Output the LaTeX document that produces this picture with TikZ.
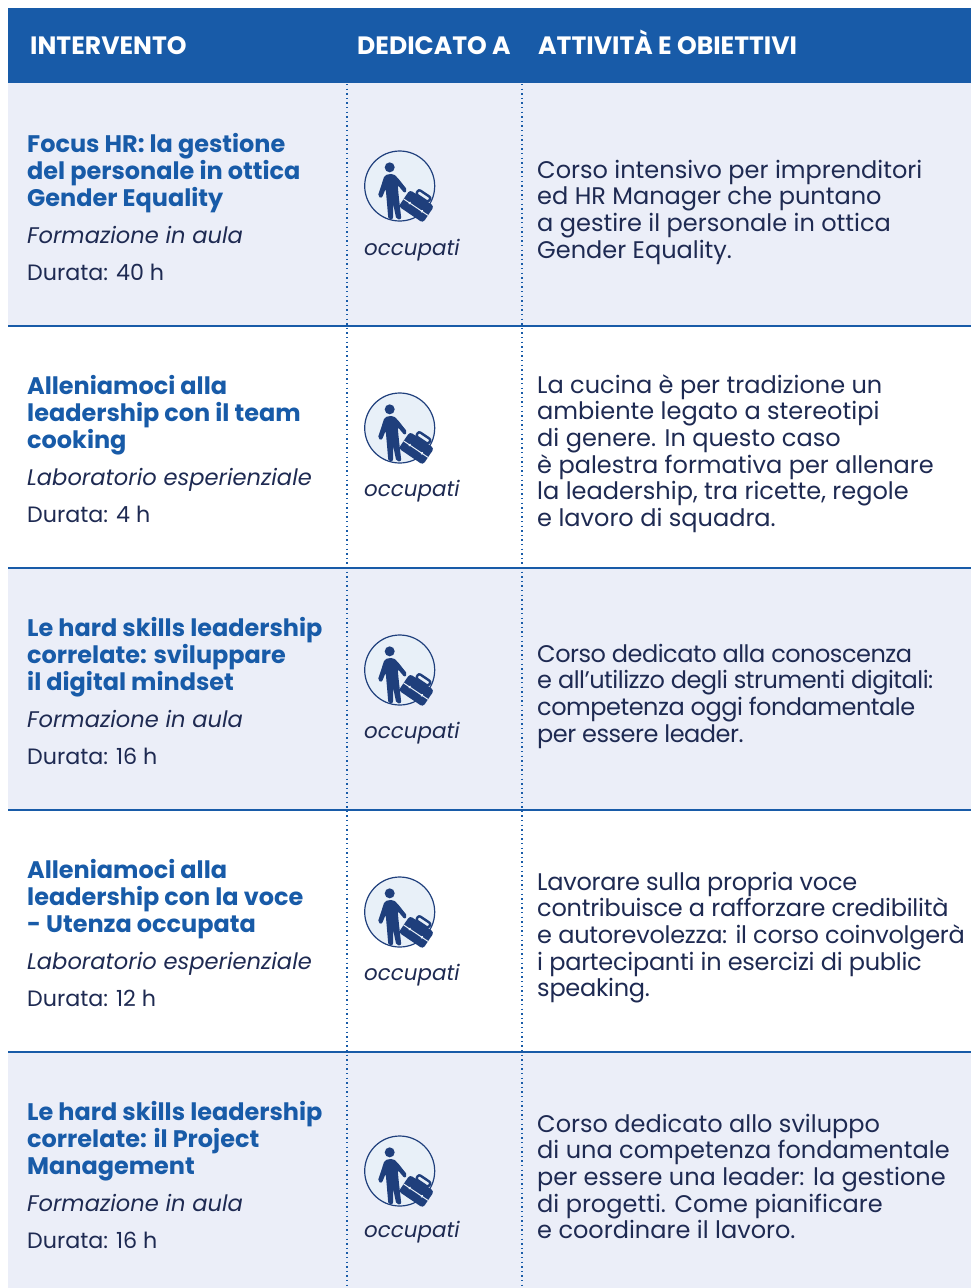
\documentclass[tikz,border=0pt]{standalone}
\usepackage{fontspec}
\setmainfont{Poppins}
\definecolor{hdr}{HTML}{185BA8}
\definecolor{rowbg}{HTML}{EBEEF8}
\definecolor{ttl}{HTML}{185BA8}
\definecolor{ink}{HTML}{1E2A52}
\definecolor{iconblue}{HTML}{1F3F7C}
\definecolor{iconbg}{HTML}{E8F0F8}
\tikzset{
  band/.style={fill=rowbg,draw=none},
  rule/.style={draw=hdr,line width=1.4pt},
  dotline/.style={draw=hdr,line width=1.4pt,dash pattern=on 1.4pt off 3.2pt},
  headtxt/.style={anchor=base west,inner sep=0pt,text=white,font=\fontsize{25.1}{27}\selectfont\bfseries},
  ttltxt/.style={anchor=north west,inner sep=0pt,align=left,text=ttl,font=\fontsize{23.95}{27}\selectfont\bfseries},
  subtxt/.style={anchor=base west,inner sep=0pt,text=ink,font=\fontsize{22.6}{27}\selectfont\itshape},
  occtxt/.style={anchor=base west,inner sep=0pt,text=ink,font=\fontsize{21.4}{27}\selectfont\itshape},
  durtxt/.style={anchor=base west,inner sep=0pt,text=ink,font=\fontsize{22.2}{27}\selectfont},
  bodytxt/.style={anchor=north west,inner sep=0pt,align=left,text=ink,font=\fontsize{24.03}{26.6}\selectfont},
  bodytight/.style={bodytxt,font=\fontsize{24.03}{26.6}\selectfont\addfontfeature{LetterSpace=-2.1}},
  bodysnug/.style={bodytxt,font=\fontsize{24.03}{26.6}\selectfont\addfontfeature{LetterSpace=-1.1}},
}
\newcommand{\fl}{\rule{0pt}{20pt}}
\newcommand{\workicon}[3]{%
  \begin{scope}[shift={(#2,#3)},x=0.3333pt,y=-0.3333pt]
    \node[circle,minimum size=70pt,inner sep=0pt,draw=iconblue,line width=1.2pt,fill=iconbg] (#1) at (0,0) {};
    \fill[iconblue] (-30,-56) circle (15);
    \fill[iconblue,rounded corners=2pt] (-45,-33) -- (-20,-37) -- (-8,-27) -- (23,12) -- (15,22) -- (-6,-3)
      -- (-3,30) -- (5,100) -- (-10,100) -- (-20,52) -- (-20,100) -- (-34,100) -- (-40,30) -- (-42,8) -- (-54,37) -- (-66,31) -- cycle;
    \begin{scope}[shift={(50,61)},rotate=-34]
      \fill[iconblue,rounded corners=3pt] (-44,-30) rectangle (44,30);
      \draw[iconblue,line width=2.4pt,fill=iconbg,rounded corners=2pt] (-22,-46) rectangle (22,-30);
      \draw[iconbg,line width=1pt] (-44,3) -- (44,3);
      \fill[iconbg] (-22,3) circle (4.5) (22,3) circle (4.5);
    \end{scope}
  \end{scope}
}
\begin{document}
\begin{tikzpicture}[x=1pt,y=-1pt]
\useasboundingbox (0,0) rectangle (971,1288);
\fill[white] (0,0) rectangle (971,1288);
\fill[hdr] (8,8) rectangle (971,83);
\fill[band] (8,83) rectangle (971,326);
\fill[band] (8,568) rectangle (971,810);
\fill[band] (8,1052) rectangle (971,1288);
\draw[rule] (8,326) -- (971,326);
\draw[rule] (8,568) -- (971,568);
\draw[rule] (8,810) -- (971,810);
\draw[rule] (8,1052) -- (971,1052);
\draw[dotline] (347,84) -- (347,1288);
\draw[dotline] (522,84) -- (522,1288);
\node[headtxt] (h1) at (30,54) {INTERVENTO};
\node[headtxt] (h2) at (357,54) {DEDICATO A};
\node[headtxt] (h3) at (538,54) {ATTIVITÀ E OBIETTIVI};
% row 1
\node[ttltxt] (t1) at (27,132.5) {\fl Focus HR: la gestione\\del personale in ottica\\Gender Equality};
\node[subtxt] (s1) at (27,243) {Formazione in aula};
\node[durtxt] (d1) at (27,280) {Durata: 40 h};
\workicon{i1}{399.7}{186}
\node[occtxt] (o1) at (364,255) {occupati};
\node[bodytxt] (b1) at (537,158) {\fl Corso intensivo per imprenditori\\ed HR Manager che puntano\\a gestire il personale in ottica\\Gender Equality.};
% row 2
\node[ttltxt] (t2) at (27,374.5) {\fl Alleniamoci alla\\leadership con il team\\cooking};
\node[subtxt] (s2) at (27,485) {Laboratorio esperienziale};
\node[durtxt] (d2) at (27,522) {Durata: 4 h};
\workicon{i2}{399.7}{428}
\node[occtxt] (o2) at (364,496) {occupati};
\node[bodytxt] (b2) at (537,373) {\fl La cucina è per tradizione un\\ambiente legato a stereotipi\\di genere. In questo caso\\è palestra formativa per allenare\\la leadership, tra ricette, regole\\e lavoro di squadra.};
% row 3
\node[ttltxt] (t3) at (27,616.5) {\fl Le hard skills leadership\\correlate: sviluppare\\il digital mindset};
\node[subtxt] (s3) at (27,727) {Formazione in aula};
\node[durtxt] (d3) at (27,764) {Durata: 16 h};
\workicon{i3}{399.7}{670}
\node[occtxt] (o3) at (364,738) {occupati};
\node[bodytight] (b3) at (537,642) {\fl Corso dedicato alla conoscenza\\e all’utilizzo degli strumenti digitali:\\competenza oggi fondamentale\\per essere leader.};
% row 4
\node[ttltxt] (t4) at (27,858.5) {\fl Alleniamoci alla\\leadership con la voce\\- Utenza occupata};
\node[subtxt] (s4) at (27,969) {Laboratorio esperienziale};
\node[durtxt] (d4) at (27,1006) {Durata: 12 h};
\workicon{i4}{399.7}{912}
\node[occtxt] (o4) at (364,980) {occupati};
\node[bodysnug] (b4) at (537,870) {\fl Lavorare sulla propria voce\\contribuisce a rafforzare credibilità\\e autorevolezza: il corso coinvolgerà\\i partecipanti in esercizi di public\\speaking.};
% row 5
\node[ttltxt] (t5) at (27,1100.5) {\fl Le hard skills leadership\\correlate: il Project\\Management};
\node[subtxt] (s5) at (27,1211) {Formazione in aula};
\node[durtxt] (d5) at (27,1248) {Durata: 16 h};
\workicon{i5}{399.7}{1171}
\node[occtxt] (o5) at (364,1237) {occupati};
\node[bodytxt] (b5) at (537,1112) {\fl Corso dedicato allo sviluppo\\di una competenza fondamentale\\per essere una leader: la gestione\\di progetti. Come pianificare\\e coordinare il lavoro.};
\end{tikzpicture}
\end{document}
